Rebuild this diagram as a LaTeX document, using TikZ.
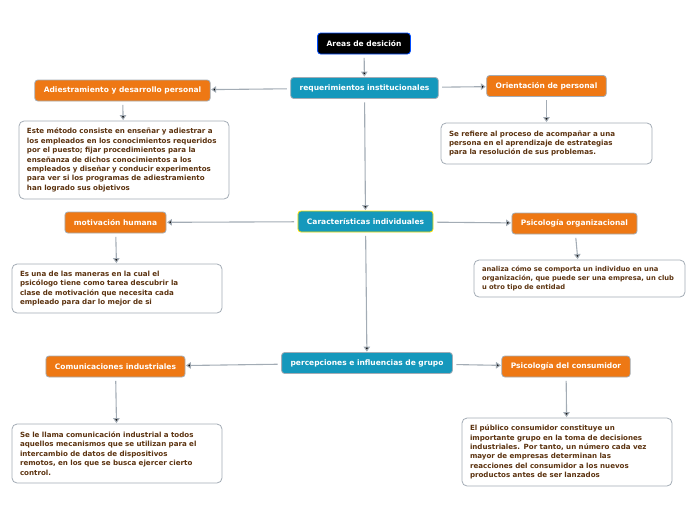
\documentclass[tikz,border=0pt]{standalone}
\usepackage{fontspec}
\setmainfont{DejaVu Sans}
\usetikzlibrary{arrows.meta}
\definecolor{naranja}{HTML}{EE7814}
\definecolor{turquesa}{HTML}{1598BC}
\definecolor{cafe}{HTML}{5C3310}
\definecolor{gris}{HTML}{A3ACB5}
\begin{document}
\begin{tikzpicture}[x=1pt, y=-1pt, -{Triangle[width=6.5pt,length=5pt]}, line width=1.1pt,
    tema/.style={rounded corners=3pt, draw=gris, line width=0.8pt, text=white, minimum height=21pt, inner xsep=9pt, font=\bfseries\fontsize{7.5}{8}\selectfont},
    orange node/.style={tema, fill=naranja},
    blue node/.style={tema, fill=turquesa},
    text node/.style={rounded corners=5pt, draw=gris, line width=0.8pt, fill=white, text=cafe, align=left, inner xsep=8pt, font=\bfseries\fontsize{7.1}{9.4}\selectfont}]
        \useasboundingbox (0,0) rectangle (696,520);

          \node[tema, fill=black, draw=blue!70!cyan] (1) at (364,43.5) {Areas de desición};
          \node[blue node] (2) at (364.5,88) {requerimientos institucionales};
          \node[orange node] (3) at (122.5,90.5) {Adiestramiento y desarrollo personal};
          \node[orange node] (4) at (546.5,86) {Orientación de personal};
          \node[blue node, draw=yellow!85!orange] (5) at (365.5,221.5) {Características individuales};
          \node[orange node] (6) at (115.5,222.5) {motivación humana};
          \node[orange node] (7) at (574.5,223.5) {Psicología organizacional};
          \node[blue node] (8) at (367,363) {percepciones e influencias de grupo};
          \node[orange node] (9) at (115.5,366.5) {Comunicaciones industriales};
          \node[orange node] (10) at (566,366.5) {Psicología del consumidor};

          \node[text node, text width=194pt, minimum height=78pt] (11) at (124,160) {Este método consiste en enseñar y adiestrar a\\los empleados en los conocimientos requeridos\\por el puesto; fijar procedimientos para la\\enseñanza de dichos conocimientos a los\\empleados y diseñar y conducir experimentos\\para ver si los programas de adiestramiento\\han logrado sus objetivos};
          \node[text node, text width=195pt, minimum height=41pt] (12) at (546.5,143.5) {Se refiere al proceso de acompañar a una\\persona en el aprendizaje de estrategias\\para la resolución de sus problemas.};
          \node[text node, text width=194pt, minimum height=49pt] (13) at (117,288.5) {Es una de las maneras en la cual el\\psicólogo tiene como tarea descubrir la\\clase de motivación que necesita cada\\empleado para dar lo mejor de si};
          \node[text node, text width=195pt, minimum height=37pt, font=\bfseries\fontsize{6.75}{8.6}\selectfont] (14) at (579.5,278.5) {analiza cómo se comporta un individuo en una\\organización, que puede ser una empresa, un club\\u otro tipo de entidad};
          \node[text node, text width=194pt, minimum height=59pt] (15) at (117,453.5) {Se le llama comunicación industrial a todos\\aquellos mecanismos que se utilizan para el\\intercambio de datos de dispositivos\\remotos, en los que se busca ejercer cierto\\control.};
          \node[text node, text width=194pt, minimum height=68pt] (16) at (567,452) {El público consumidor constituye un\\importante grupo en la toma de decisiones\\industriales. Por tanto, un número cada vez\\mayor de empresas determinan las\\reacciones del consumidor a los nuevos\\productos antes de ser lanzados};

          \path[draw=gris, shorten <=3.5pt, shorten >=0.5pt]
            (1) edge (2)
            (2) edge (3)
            (2) edge (4)
            (2) edge (5)
            (3) edge (11)
            (4) edge (12)
            (5) edge (6)
            (5) edge (7)
            (5) edge (8)
            (6) edge (13)
            (7) edge (14)
            (8) edge (9)
            (8) edge (10)
            (9) edge (15)
            (10) edge (16);

\end{tikzpicture}
\end{document}
